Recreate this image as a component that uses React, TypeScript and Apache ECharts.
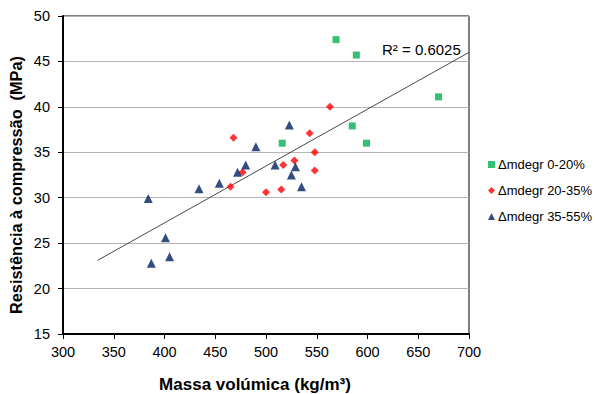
import React, { useEffect, useRef } from "react";
import * as echarts from "echarts";

const xTicks = [300, 350, 400, 450, 500, 550, 600, 650, 700];
const yTicks = [15, 20, 25, 30, 35, 40, 45, 50];

const green020: [number, number][] = [
  [569, 47.4], [589, 45.7], [670, 41.1], [585, 37.9], [599, 36.0], [516, 36.0],
];
const red2035: [number, number][] = [
  [468, 36.6], [477, 32.8], [563, 40.0], [543, 37.1], [548, 35.0], [517, 33.6],
  [528, 34.1], [548, 33.0], [465, 31.2], [500, 30.6], [515, 30.9],
];
const blue3555: [number, number][] = [
  [490, 35.6], [480, 33.6], [472, 32.8], [523, 38.0], [509, 33.6], [529, 33.4],
  [525, 32.5], [535, 31.2], [384, 29.9], [434, 31.0], [454, 31.6], [401, 25.6],
  [387, 22.8], [405, 23.5],
];
const trendLine: [number, number][] = [
  [334, 23.1], [700, 46.0],
];
const seriesNames = ["Δmdegr 0-20%", "Δmdegr 20-35%", "Δmdegr 35-55%"];
const r2Label = "R² = 0.6025";
const xTitle = "Massa volúmica (kg/m³)";
const yTitle = "Resistência à compressão  (MPa)";

const FONT = "'Liberation Sans', Arial, sans-serif";

export default function App() {
  const ref = useRef<HTMLDivElement>(null);
  useEffect(() => {
    if (!ref.current) return;
    const chart = echarts.init(ref.current, null, { renderer: "svg" });
    chart.setOption({
      animation: false,
      backgroundColor: "#fff",
      textStyle: { fontFamily: FONT },
      grid: {
        left: 63, top: 16, width: 406, height: 318,
        show: true, borderColor: "#000", borderWidth: 1, backgroundColor: "transparent",
      },
      xAxis: {
        type: "value", min: xTicks[0], max: xTicks[xTicks.length - 1], interval: 50,
        axisLine: { show: true, onZero: false, lineStyle: { color: "#000", width: 2 } },
        axisTick: { show: true, length: 5, lineStyle: { color: "#000", width: 1 } },
        axisLabel: { color: "#000", fontSize: 14.5, margin: 10, fontFamily: FONT },
        splitLine: { show: false },
      },
      yAxis: {
        type: "value", min: yTicks[0], max: yTicks[yTicks.length - 1], interval: 5,
        axisLine: { show: true, onZero: false, lineStyle: { color: "#000", width: 2 } },
        axisTick: { show: true, length: 5, lineStyle: { color: "#000", width: 1 } },
        axisLabel: { color: "#000", fontSize: 14.5, margin: 13, fontFamily: FONT },
        splitLine: { show: true, lineStyle: { color: "#b3b3b3", width: 1 } },
      },
      legend: {
        orient: "vertical", left: 483, top: 153,
        itemWidth: 7, itemHeight: 7, itemGap: 13, data: [
          { name: seriesNames[0], icon: "rect" },
          { name: seriesNames[1], icon: "diamond" },
          { name: seriesNames[2], icon: "triangle" },
        ],
        textStyle: { color: "#000", fontSize: 13, fontFamily: FONT, padding: [0, 0, 0, -2] },
      },
      series: [
        {
          name: "trend", type: "line", data: trendLine, symbol: "none",
          lineStyle: { color: "#333", width: 0.9 }, silent: true, z: 1,
        },
        {
          name: seriesNames[0], type: "scatter", data: green020, symbol: "rect",
          symbolSize: 7, itemStyle: { color: "#00B050" }, z: 3,
        },
        {
          name: seriesNames[1], type: "scatter", data: red2035, symbol: "diamond",
          symbolSize: 8, itemStyle: { color: "#FF0000" }, z: 3,
        },
        {
          name: seriesNames[2], type: "scatter", data: blue3555, symbol: "triangle",
          symbolSize: 9, itemStyle: { color: "#002060" }, z: 3,
        },
      ],
      graphic: [
        {
          type: "text", left: 382, top: 42,
          style: { text: r2Label, fontSize: 15, fill: "#000", fontFamily: FONT },
        },
        {
          type: "text", x: 255, y: 384,
          style: {
            text: xTitle, fontSize: 17, fontWeight: "bold", fill: "#000",
            fontFamily: FONT, align: "center", verticalAlign: "middle",
          },
        },
        {
          type: "text", x: 16, y: 185, rotation: Math.PI / 2,
          style: {
            text: yTitle, fontSize: 16.3, fontWeight: "bold", fill: "#000",
            fontFamily: FONT, align: "center", verticalAlign: "middle",
          },
        },
      ],
    });
    return () => chart.dispose();
  }, []);
  return (
    <div
      ref={ref}
      style={{ position: "fixed", left: 0, top: 0, width: 595, height: 394, background: "#fff" }}
    />
  );
}
